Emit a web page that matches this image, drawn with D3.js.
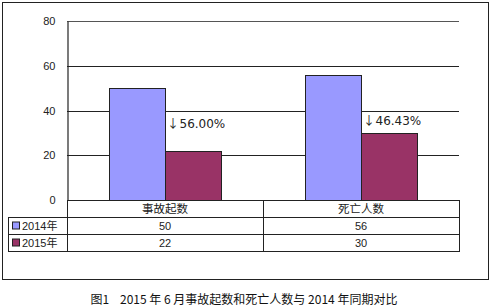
<!DOCTYPE html>
<html><head><meta charset="utf-8">
<script src="https://cdn.jsdelivr.net/npm/d3@7"></script>
<style>body{margin:0;background:#fff}svg{display:block}</style>
</head><body>
<script>
const categories = ["事故起数", "死亡人数"];
const seriesNames = ["2014年", "2015年"];
const values2014 = [50, 56];
const values2015 = [22, 30];
const changeLabels = ["56.00%", "46.43%"];
const changeLabelAt = [32.2, 33.5];
const yTicks = [0, 20, 40, 60, 80];
const caption = "图1\u00A0\u00A0\u00A0\u00A02015 年 6 月事故起数和死亡人数与 2014 年同期对比";
const colors = ["#9999FF", "#993366"];

const W = 491, H = 308;
const svg = d3.select("body").append("svg").attr("width", W).attr("height", H);
const font = "Arial, 'Liberation Sans', 'Noto Sans CJK SC', sans-serif";

// outer frame
svg.append("rect").attr("x", 2.5).attr("y", 2.5).attr("width", 486).attr("height", 277)
  .attr("fill", "none").attr("stroke", "#222").attr("stroke-width", 1);

const pLeft = 67, pRight = 459, pTop = 21, pBottom = 200;
const y = d3.scaleLinear().domain([0, 80]).range([pBottom, pTop]);
const x0 = d3.scaleBand().domain(categories).range([pLeft, pRight]).paddingInner(0).paddingOuter(0);
const x1 = d3.scaleBand().domain(seriesNames).range([0, x0.bandwidth()]).paddingOuter(0.75).paddingInner(0);

// gridlines
svg.append("g").selectAll("line").data(yTicks.filter(d => d > 0)).join("line")
  .attr("x1", pLeft).attr("x2", pRight)
  .attr("y1", d => Math.round(y(d)) + 0.5).attr("y2", d => Math.round(y(d)) + 0.5)
  .attr("stroke", d => d === 80 ? "#555" : "#222").attr("stroke-width", 1.2);

// y axis
const yAxis = svg.append("g").attr("transform", `translate(${pLeft + 0.5},0)`)
  .call(d3.axisLeft(y).tickValues(yTicks).tickSize(0).tickPadding(12));
yAxis.select(".domain").attr("stroke", "#222").attr("stroke-width", 1.2);
yAxis.selectAll("text").attr("font-family", font).attr("font-size", 11).attr("fill", "#222");

// bars
const series = [values2014, values2015];
categories.forEach((c, i) => {
  seriesNames.forEach((s, j) => {
    svg.append("rect")
      .attr("x", x0(c) + x1(s) + 0.5)
      .attr("y", Math.round(y(series[j][i])) + 0.5)
      .attr("width", x1.bandwidth())
      .attr("height", pBottom - Math.round(y(series[j][i])))
      .attr("fill", colors[j]).attr("stroke", "#222").attr("stroke-width", 1);
  });
  const t = svg.append("text")
    .attr("x", x0(c) + x1(seriesNames[1]) + 2)
    .attr("y", y(changeLabelAt[i]))
    .attr("font-size", 12).attr("fill", "#222");
  t.append("tspan").attr("font-family", "'Noto Sans CJK SC', sans-serif").text("↓");
  t.append("tspan").attr("font-family", "'DejaVu Sans', sans-serif").attr("dx", 0.5).text(changeLabels[i]);
});

// bottom axis line
svg.append("line").attr("x1", pLeft).attr("x2", pRight).attr("y1", pBottom + 0.5).attr("y2", pBottom + 0.5)
  .attr("stroke", "#222").attr("stroke-width", 1.2);

// data table
const rowH = [pBottom, 217, 234, 251];
const tleft = 8;
const g = svg.append("g").attr("stroke", "#222").attr("stroke-width", 1).attr("fill", "none");
[1, 2, 3].forEach(k => {
  g.append("line").attr("x1", tleft).attr("x2", pRight).attr("y1", rowH[k] + 0.5).attr("y2", rowH[k] + 0.5);
});
g.append("line").attr("x1", tleft + 0.5).attr("x2", tleft + 0.5).attr("y1", rowH[1]).attr("y2", rowH[3] + 1);
g.append("line").attr("x1", pLeft + 0.5).attr("x2", pLeft + 0.5).attr("y1", pBottom).attr("y2", rowH[3] + 1);
g.append("line").attr("x1", x0(categories[1]) + 0.5).attr("x2", x0(categories[1]) + 0.5).attr("y1", pBottom).attr("y2", rowH[3] + 1);
g.append("line").attr("x1", pRight + 0.5).attr("x2", pRight + 0.5).attr("y1", pBottom).attr("y2", rowH[3] + 1);

const tf = "'Liberation Sans', Arial, 'Noto Sans CJK SC', sans-serif";
categories.forEach((c, i) => {
  const cx = x0(c) + x0.bandwidth() / 2;
  svg.append("text").attr("x", cx).attr("y", (rowH[0] + rowH[1]) / 2 + 4.5).attr("text-anchor", "middle")
    .attr("font-family", "'Noto Sans CJK SC', sans-serif").attr("font-size", 11.5).attr("fill", "#222").text(c);
  series.forEach((vals, j) => {
    svg.append("text").attr("x", cx).attr("y", (rowH[j + 1] + rowH[j + 2]) / 2 + 4.5).attr("text-anchor", "middle")
      .attr("font-family", tf).attr("font-size", 11).attr("fill", "#222").text(vals[i]);
  });
});
seriesNames.forEach((s, j) => {
  const cy = (rowH[j + 1] + rowH[j + 2]) / 2;
  svg.append("rect").attr("x", 12.5).attr("y", cy - 3.5).attr("width", 7).attr("height", 7)
    .attr("fill", colors[j]).attr("stroke", "#222").attr("stroke-width", 1);
  svg.append("text").attr("x", 22).attr("y", cy + 4.5)
    .attr("font-family", tf).attr("font-size", 11).attr("fill", "#222").text(s);
});

// caption
svg.append("text").attr("x", 244).attr("y", 303.5).attr("text-anchor", "middle")
  .attr("font-family", "'Noto Sans CJK SC', sans-serif").attr("font-size", 12).attr("fill", "#111")
  .text(caption);
</script>
</body></html>
